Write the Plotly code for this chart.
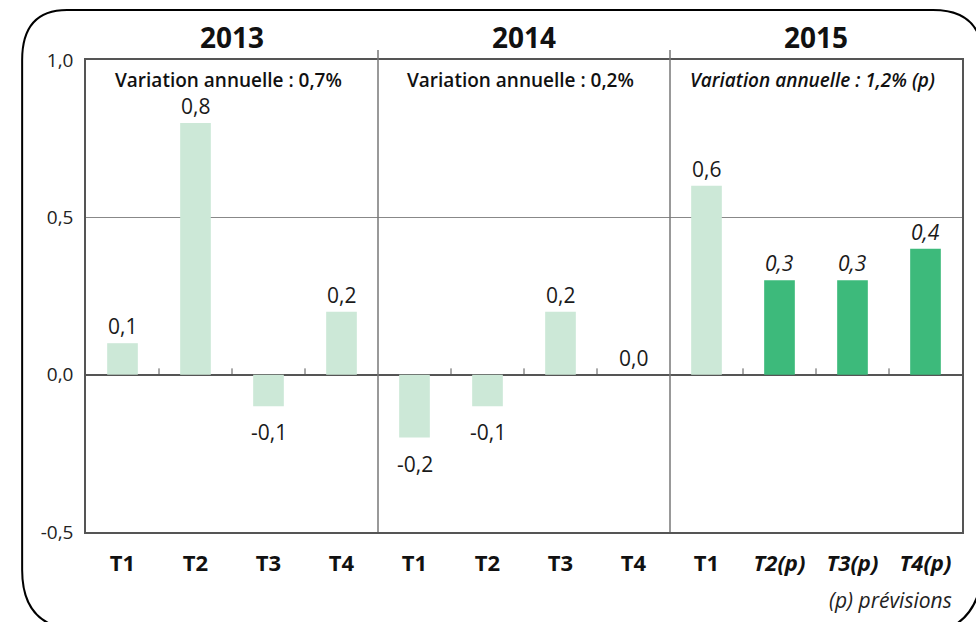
import plotly.graph_objects as go

# ---- data ----
years = ["2013", "2014", "2015"]
quarters = ["T1", "T2", "T3", "T4", "T1", "T2", "T3", "T4", "T1", "T2(p)", "T3(p)", "T4(p)"]
values = [0.1, 0.8, -0.1, 0.2, -0.2, -0.1, 0.2, 0.0, 0.6, 0.3, 0.3, 0.4]
value_labels = ["0,1", "0,8", "-0,1", "0,2", "-0,2", "-0,1", "0,2", "0,0", "0,6", "0,3", "0,3", "0,4"]
forecast = [False] * 9 + [True] * 3
annual_text = ["Variation annuelle : 0,7%", "Variation annuelle : 0,2%", "Variation annuelle : 1,2% (p)"]
annual_italic = [False, False, True]
y_tickvals = [-0.5, 0.0, 0.5, 1.0]
y_ticktext = ["-0,5", "0,0", "0,5", "1,0"]

LIGHT = "#cce8d7"
DARK = "#3dba7b"
FONT = "Open Sans"

W, H = 976, 622
ML, MR, MT, MB = 86, 12, 60, 90
PW, PH = W - ML - MR, H - MT - MB


def px2paper(x, y):
    return (x - ML) / PW, (H - MB - y) / PH


x = list(range(len(values)))
colors = [DARK if f else LIGHT for f in forecast]

fig = go.Figure()
fig.add_trace(go.Bar(x=x, y=values, marker=dict(color=colors, line=dict(width=0)),
                     width=0.42, hoverinfo="skip"))

ticktext = []
for q, f in zip(quarters, forecast):
    ticktext.append(f"<b><i>{q}</i></b>" if f else f"<b>{q}</b>")

annotations = []
# value labels
for xi, v, lab, f in zip(x, values, value_labels, forecast):
    txt = f"<i>{lab}</i>" if f else lab
    if v >= 0:
        annotations.append(dict(x=xi, y=v, text=txt, showarrow=False, xref="x", yref="y",
                                yanchor="bottom", yshift=1,
                                font=dict(family=FONT, size=21, color="#1a1a1a")))
    else:
        annotations.append(dict(x=xi, y=v, text=txt, showarrow=False, xref="x", yref="y",
                                yanchor="top", yshift=-10,
                                font=dict(family=FONT, size=21, color="#1a1a1a")))

# year headers and annual variations
for i, (yr, at, it) in enumerate(zip(years, annual_text, annual_italic)):
    cx = 4 * i + 1.5
    annotations.append(dict(x=cx, y=1.0, xref="x", yref="paper", text=f"<b>{yr}</b>",
                            showarrow=False, yanchor="bottom", yshift=2,
                            font=dict(family=FONT, size=28, color="#111")))
    txt = f"<i>{at}</i>" if it else at
    annotations.append(dict(x=cx - 0.05, y=1.0, xref="x", yref="paper", text=txt,
                            showarrow=False, yanchor="top", yshift=-5,
                            font=dict(family=FONT, size=19, color="#111", weight=600)))

# footnote
fx, fy = px2paper(956, 600)
annotations.append(dict(x=fx, y=fy, xref="paper", yref="paper", text="<i>(p) prévisions</i>",
                        showarrow=False, xanchor="right", yanchor="middle",
                        font=dict(family=FONT, size=21, color="#222")))

shapes = []
# panel dividers
for b in [3.5, 7.5]:
    _, ytop = px2paper(0, 50)
    shapes.append(dict(type="line", xref="x", yref="paper", x0=b, x1=b, y0=0, y1=ytop,
                       line=dict(color="#777", width=1.5), layer="above"))
# small ticks on the zero line
for b in [0.5, 1.5, 2.5, 4.5, 5.5, 6.5, 8.5, 9.5, 10.5]:
    shapes.append(dict(type="line", xref="x", yref="y", x0=b, x1=b, y0=0, y1=0.02,
                       line=dict(color="#555", width=1), layer="above"))

# rounded outer border
pts = [(22, 60), (22, 10), (67, 10), (935, 10), (985, 10), (985, 60),
       (985, 560), (985, 635), (915, 635), (82, 630), (22, 630), (22, 570)]
pp = [px2paper(a, b) for a, b in pts]
path = (f"M {pp[0][0]},{pp[0][1]} Q {pp[1][0]},{pp[1][1]} {pp[2][0]},{pp[2][1]} "
        f"L {pp[3][0]},{pp[3][1]} Q {pp[4][0]},{pp[4][1]} {pp[5][0]},{pp[5][1]} "
        f"L {pp[6][0]},{pp[6][1]} Q {pp[7][0]},{pp[7][1]} {pp[8][0]},{pp[8][1]} "
        f"L {pp[9][0]},{pp[9][1]} Q {pp[10][0]},{pp[10][1]} {pp[11][0]},{pp[11][1]} Z")
shapes.append(dict(type="path", xref="paper", yref="paper", path=path,
                   line=dict(color="#000", width=2), layer="above"))

fig.update_layout(
    width=W, height=H, margin=dict(l=ML, r=MR, t=MT, b=MB),
    plot_bgcolor="white", paper_bgcolor="white", showlegend=False,
    annotations=annotations, shapes=shapes,
    xaxis=dict(range=[-0.5, 11.5], tickvals=x, ticktext=ticktext, showgrid=False,
               zeroline=False, showline=True, mirror=True, linecolor="#555", linewidth=1.5,
               ticks="", ticklabelstandoff=11,
               tickfont=dict(family=FONT, size=22, color="#111")),
    yaxis=dict(range=[-0.5, 1.0], tickvals=y_tickvals, ticktext=y_ticktext,
               showgrid=True, gridcolor="#888", gridwidth=1,
               zeroline=True, zerolinecolor="#555", zerolinewidth=1.5,
               showline=True, mirror=True, linecolor="#555", linewidth=1.5,
               ticks="", ticklabelstandoff=7,
               tickfont=dict(family=FONT, size=19, color="#222")),
)

fig.write_html("out.html", config={"displayModeBar": False},
               post_script="document.body.style.margin='0';document.body.style.overflow='hidden';")
